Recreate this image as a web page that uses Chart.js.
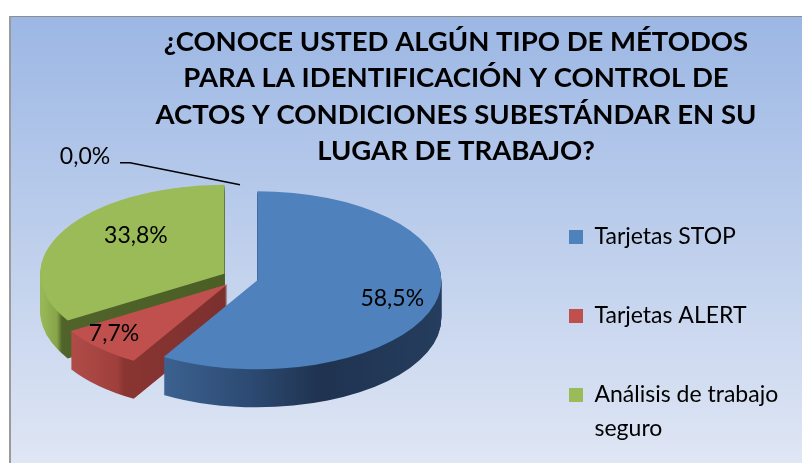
<!DOCTYPE html>
<html>
<head>
<meta charset="utf-8">
<script src="https://cdn.jsdelivr.net/npm/chart.js@4"></script>
<style>
  html, body { margin: 0; padding: 0; background: #fff; }
  #wrap { width: 802px; height: 463px; }
</style>
</head>
<body>
<div id="wrap"><canvas id="c" width="802" height="463"></canvas></div>
<script>
// ---- data ----
const categories = ['Tarjetas STOP', 'Tarjetas ALERT', ['Análisis de trabajo', 'seguro'], ''];
const values = [58.5, 7.7, 33.8, 0.0];
const valueLabels = ['58,5%', '7,7%', '33,8%', '0,0%'];
const titleLines = ['¿CONOCE USTED ALGÚN TIPO DE MÉTODOS', 'PARA LA IDENTIFICACIÓN Y CONTROL DE', 'ACTOS Y CONDICIONES SUBESTÁNDAR EN SU', 'LUGAR DE TRABAJO?'];
const topColors = ['#4f81bd', '#c0504d', '#9bbb59', '#8064a2'];

// ---- 3D look (styling) ----
const G = { cx: 240, cy: 278, rx: 184, ry: 89, depth: 38, explode: 18 };
const sideStops = [
  [[158, '#3d6392'], [250, '#2c4a72'], [320, '#1f3350'], [442, '#253d5e']],
  [[60, '#b44f4b'], [118, '#9e3f3c'], [124, '#8a3532'], [228, '#7b302e']],
  [[42, '#98b858'], [57, '#87a448'], [62, '#50632a'], [230, '#4b5e26']],
  [[0, '#5f4b7a'], [800, '#5f4b7a']]
];
const labelPlace = [{ r: 0.76, dy: 0 }, { r: 0.88, dy: -7 }, { r: 0.55, dy: -14 }, { r: 0.95, dy: 0 }];

function sideFill(ctx, i) {
  const st = sideStops[i];
  const g = ctx.createLinearGradient(0, 0, 802, 0);
  st.forEach(([x, c]) => g.addColorStop(Math.min(Math.max(x / 802, 0), 1), c));
  return g;
}
function applyT(ctx, el, t) {
  const mid = (el.startAngle + el.endAngle) / 2;
  const s = G.rx / el.outerRadius;
  const k = G.ry / G.rx;
  ctx.translate(G.cx + G.explode * Math.cos(mid), G.cy + G.explode * Math.sin(mid) * k + t);
  ctx.scale(s, s * k);
  ctx.translate(-el.x, -el.y);
}
function screenPt(el, frac) {
  const mid = (el.startAngle + el.endAngle) / 2;
  const k = G.ry / G.rx;
  const d = G.explode + frac * G.rx;
  return { x: G.cx + d * Math.cos(mid), y: G.cy + d * Math.sin(mid) * k };
}

const pie3d = {
  id: 'pie3d',
  beforeDraw(chart) {
    const ctx = chart.ctx, W = chart.width, H = chart.height;
    ctx.save();
    ctx.fillStyle = '#ffffff';
    ctx.fillRect(0, 0, W, H);
    const g = ctx.createLinearGradient(0, 16, 0, H);
    g.addColorStop(0, '#9cb7e4');
    g.addColorStop(1, '#dfe6f4');
    ctx.fillStyle = g;
    ctx.fillRect(10, 16, W - 10, H - 16);
    ctx.fillStyle = '#8e8e8e';
    ctx.fillRect(10, 16, W - 10, 1);
    ctx.fillStyle = '#9a9a9a';
    ctx.fillRect(9, 16, 2, H - 16);
    ctx.restore();
  },
  beforeDatasetsDraw(chart) {
    const ctx = chart.ctx;
    const meta = chart.getDatasetMeta(0);
    const fills = meta.data.map((el, i) => sideFill(ctx, i));
    for (let t = G.depth; t >= 1; t--) {
      meta.data.forEach((el, i) => {
        if (!(el.endAngle - el.startAngle > 0)) return;
        ctx.save();
        applyT(ctx, el, t);
        ctx.beginPath();
        ctx.moveTo(el.x, el.y);
        ctx.arc(el.x, el.y, el.outerRadius, el.startAngle, el.endAngle);
        ctx.closePath();
        ctx.restore();
        ctx.fillStyle = fills[i];
        ctx.fill();
      });
    }
    meta.data.forEach((el) => {
      ctx.save();
      applyT(ctx, el, 0);
      el.draw(ctx);
      ctx.restore();
    });
    // labels
    ctx.save();
    ctx.fillStyle = '#000';
    ctx.font = '23px Lato';
    ctx.textAlign = 'center';
    ctx.textBaseline = 'middle';
    meta.data.forEach((el, i) => {
      const p = screenPt(el, labelPlace[i].r);
      if (values[i] === 0) {
        const tx = p.x - 155, ty = p.y - 28;
        ctx.strokeStyle = '#000';
        ctx.lineWidth = 1.3;
        ctx.beginPath();
        ctx.moveTo(tx + 35, ty + 6);
        ctx.lineTo(tx + 45, ty + 6);
        ctx.lineTo(p.x, p.y);
        ctx.stroke();
        ctx.fillText(valueLabels[i], tx, ty);
      } else {
        ctx.fillText(valueLabels[i], p.x, p.y + labelPlace[i].dy);
      }
    });
    ctx.restore();
    return false;
  }
};

Chart.defaults.font.family = 'Lato';
new Chart(document.getElementById('c'), {
  type: 'pie',
  data: {
    labels: categories,
    datasets: [{
      data: values,
      backgroundColor: topColors,
      borderWidth: 0,
      hoverOffset: 0
    }]
  },
  options: {
    responsive: false,
    animation: false,
    events: [],
    layout: { padding: { left: 123, right: 13, top: 0, bottom: 0 } },
    plugins: {
      tooltip: { enabled: false },
      title: {
        display: true,
        text: titleLines,
        color: '#000',
        font: { family: 'Lato', size: 27.5, weight: 'bold', lineHeight: 1.327 },
        padding: { top: 23.5, bottom: 0 }
      },
      legend: {
        position: 'right',
        align: 'start',
        fullSize: false,
        maxWidth: 276,
        labels: {
          color: '#000',
          font: { family: 'Lato', size: 23, lineHeight: 1.45 },
          boxWidth: 14,
          boxHeight: 14,
          padding: 56,
          filter: (item) => item.index < 3
        }
      }
    }
  },
  plugins: [pie3d]
});
</script>
</body>
</html>
